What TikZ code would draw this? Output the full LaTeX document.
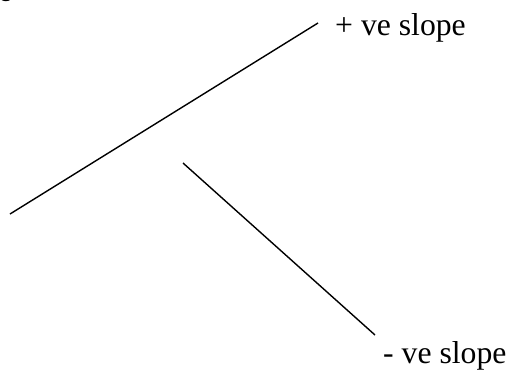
\documentclass[tikz,border=0pt]{standalone}
\usepackage{fontspec}
\setmainfont{Liberation Serif}

\begin{document}
\begin{tikzpicture}[x=1pt, y=-1pt, every node/.style={font=\fontsize{31.7}{38}\selectfont, inner sep=0pt},
  slopeline/.style={line width=1.4pt}]
\useasboundingbox (0,0) rectangle (511,373);
% cut-off heading
\node[anchor=base west, font=\fontsize{32}{38}\selectfont\bfseries] (head) at (-14,-4) {Q};
% end points
\coordinate (posA) at (10,214);
\coordinate (posB) at (318,23);
\coordinate (negA) at (183,163);
\coordinate (negB) at (375,335);
% lines
\draw[slopeline] (posA) -- (posB);
\draw[slopeline] (negA) -- (negB);
% labels
\node[anchor=base west] (poslabel) at (335,35) {+ ve slope};
\node[anchor=base west] (neglabel) at (383,363) {- ve slope};
\end{tikzpicture}
\end{document}
